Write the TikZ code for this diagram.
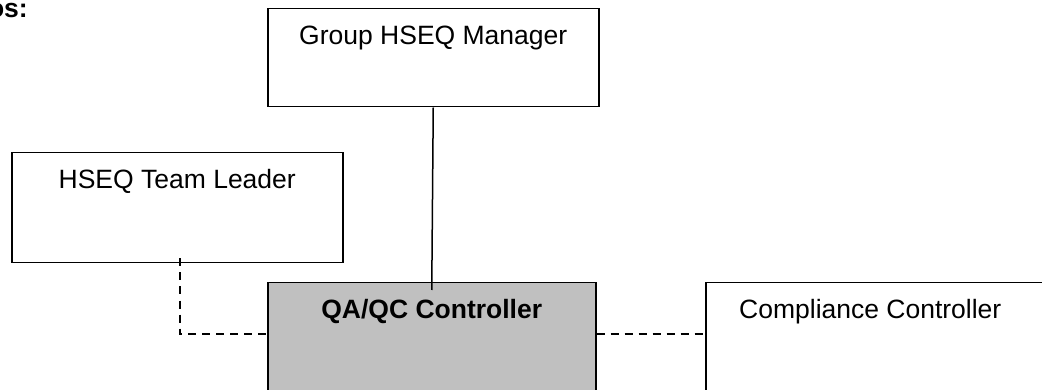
\documentclass[tikz,border=0pt]{standalone}
\usepackage{fontspec}
\setmainfont{Liberation Sans}
\definecolor{boxgray}{HTML}{C0C0C0}
\usetikzlibrary{positioning}

\tikzset{
  orgbox/.style={draw, line width=1.5pt, inner sep=0pt, anchor=north west,
    minimum width=331pt, minimum height=98pt},
  boxtext/.style={anchor=base, yshift=-36.5pt, inner sep=0pt,
    font=\fontsize{26.5}{32}\selectfont},
  link/.style={line width=1.5pt},
  dotlink/.style={link, dash pattern=on 8pt off 6pt},
}

\begin{document}
\begin{tikzpicture}[x=1pt, y=-1pt]
  \clip (0,0) rectangle (1042,390);
  % heading, cut at the page edge
  \node[anchor=base east, inner sep=0pt, font=\fontsize{26.5}{32}\selectfont\bfseries] (head) at (28,18) {os:};
  % boxes
  \node[orgbox, label={[boxtext]north:Group HSEQ Manager}] (mgr) at (267,8) {};
  \node[orgbox, minimum height=110pt, label={[boxtext]north:HSEQ Team Leader}] (lead) at (11,152) {};
  \node[orgbox, minimum width=328pt, minimum height=140pt, fill=boxgray,
    label={[boxtext, font=\fontsize{26.5}{32}\selectfont\bfseries]north:QA/QC Controller}] (qa) at (267,282) {};
  \node[orgbox, minimum width=400pt, minimum height=140pt,
    label={[boxtext, anchor=base west, xshift=34pt]north west:Compliance Controller}] (comp) at (705,282) {};
  % reporting lines
  \draw[link] (mgr.south) -- ([yshift=-8pt]qa.north);
  \draw[dotlink] ([xshift=2.5pt, yshift=5pt]lead.south) |- ([yshift=-52pt]qa.north west);
  \draw[dotlink] ([yshift=-52pt]qa.north east) -- ([yshift=-52pt]comp.north west);
\end{tikzpicture}
\end{document}
